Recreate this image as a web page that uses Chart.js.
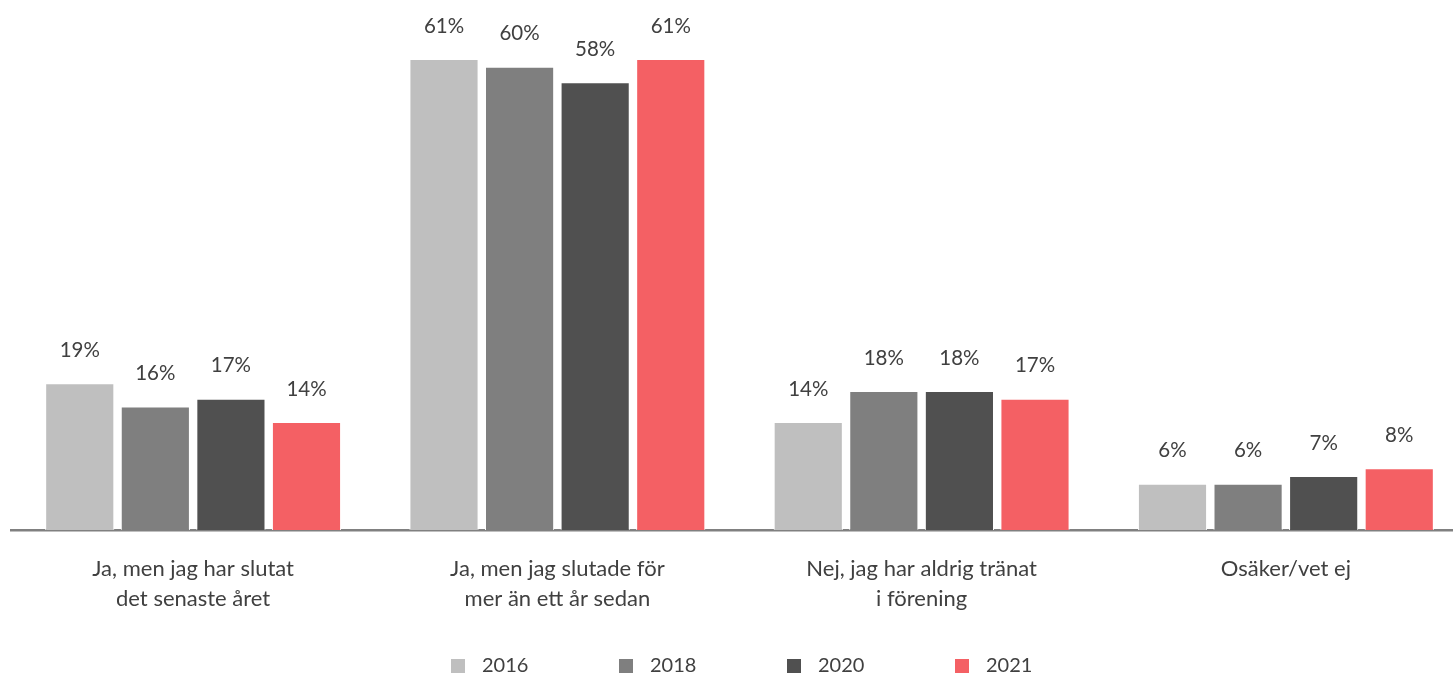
<!DOCTYPE html>
<html>
<head>
<meta charset="utf-8">
<script src="https://cdn.jsdelivr.net/npm/chart.js@4/dist/chart.umd.min.js"></script>
<style>
  html, body { margin: 0; padding: 0; background: #fff; overflow: hidden; }
  #wrap { width: 1468px; height: 676px; }
</style>
</head>
<body>
<div id="wrap"><canvas id="chart" width="1468" height="676"></canvas></div>
<script>
const categories = [
    ['Ja, men jag har slutat', 'det senaste året'],
    ['Ja, men jag slutade för', 'mer än ett år sedan'],
    ['Nej, jag har aldrig tränat', 'i förening'],
    ['Osäker/vet ej']
];
const years = ['2016', '2018', '2020', '2021'];
const values2016 = [19, 61, 14, 6];
const values2018 = [16, 60, 18, 6];
const values2020 = [17, 58, 18, 7];
const values2021 = [14, 61, 17, 8];
const colors = ['#BFBFBF', '#7F7F7F', '#505050', '#F46064'];

const FONT = 'Lato, "Open Sans", sans-serif';
const TEXT = '#404040';

const valueLabels = {
    id: 'valueLabels',
    afterDatasetsDraw(chart) {
        const ctx = chart.ctx;
        ctx.save();
        ctx.font = '20.5px ' + FONT;
        ctx.fillStyle = TEXT;
        ctx.textAlign = 'center';
        ctx.textBaseline = 'middle';
        chart.data.datasets.forEach((ds, i) => {
            chart.getDatasetMeta(i).data.forEach((bar, j) => {
                ctx.fillText(ds.data[j] + '%', bar.x, bar.y - 33);
            });
        });
        ctx.restore();
    }
};

// legend drawn by hand, wide spacing like the original
const bottomLegend = {
    id: 'bottomLegend',
    afterDraw(chart) {
        const ctx = chart.ctx;
        ctx.save();
        ctx.font = '20px ' + FONT;
        ctx.textBaseline = 'middle';
        ctx.textAlign = 'left';
        chart.data.datasets.forEach((ds, i) => {
            const x = 451 + i * 168;
            const y = 666;
            ctx.fillStyle = ds.backgroundColor;
            ctx.fillRect(x, y - 7, 14, 14);
            ctx.fillStyle = TEXT;
            ctx.fillText(ds.label, x + 31, y);
        });
        ctx.restore();
    }
};

const ctx = document.getElementById('chart').getContext('2d');
const chart = new Chart(ctx, {
    type: 'bar',
    data: {
        labels: categories,
        datasets: [
            { label: years[0], data: values2016, backgroundColor: colors[0] },
            { label: years[1], data: values2018, backgroundColor: colors[1] },
            { label: years[2], data: values2020, backgroundColor: colors[2] },
            { label: years[3], data: values2021, backgroundColor: colors[3] }
        ].map(d => Object.assign(d, {
            borderColor: '#ffffff',
            borderWidth: 1,
            categoryPercentage: 0.83,
            barPercentage: 0.915
        }))
    },
    options: {
        responsive: false,
        animation: false,
        layout: { padding: { left: 11, right: 0, top: 5, bottom: 0 } },
        plugins: {
            legend: { display: false },
            tooltip: { enabled: false }
        },
        scales: {
            x: {
                grid: { display: false },
                border: { display: true, color: '#808080', width: 2.5 },
                ticks: {
                    color: TEXT,
                    font: { family: FONT, size: 22, lineHeight: 1.36 },
                    padding: 16,
                    maxRotation: 0
                },
                afterFit(scale) { scale.height = 146; }
            },
            y: {
                display: false,
                min: 0,
                max: 68
            }
        }
    },
    plugins: [valueLabels, bottomLegend]
});
</script>
</body>
</html>
